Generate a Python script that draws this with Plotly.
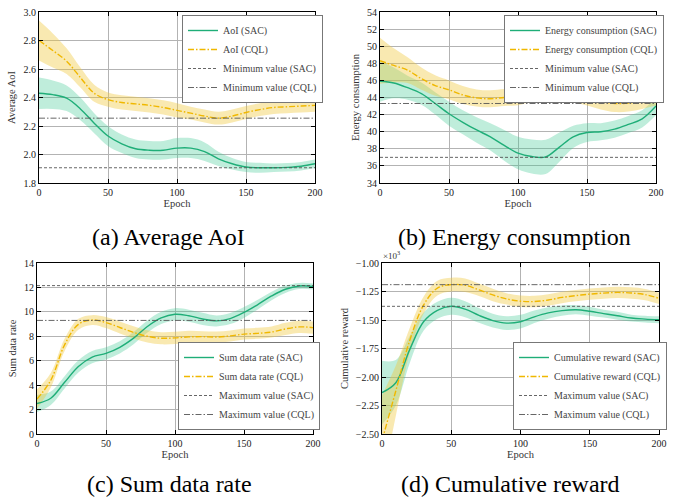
import plotly.graph_objects as go

# ---------------- data ----------------
epoch = list(range(0, 201, 10))

# (a) Average AoI
aoi_sac = [2.43, 2.42, 2.395, 2.32, 2.22, 2.13, 2.075, 2.04, 2.03, 2.03, 2.045,
           2.045, 2.02, 1.97, 1.935, 1.912, 1.907, 1.907, 1.91, 1.918, 1.935]
aoi_sac_std = [0.11, 0.10, 0.09, 0.08, 0.07, 0.07, 0.065, 0.065, 0.065, 0.065, 0.07,
               0.07, 0.065, 0.05, 0.04, 0.035, 0.035, 0.03, 0.03, 0.03, 0.03]
aoi_cql = [2.80, 2.73, 2.655, 2.54, 2.43, 2.385, 2.365, 2.355, 2.345, 2.33, 2.31,
           2.29, 2.27, 2.255, 2.27, 2.295, 2.315, 2.33, 2.335, 2.34, 2.345]
aoi_cql_std = [0.14, 0.12, 0.09, 0.07, 0.06, 0.05, 0.05, 0.05, 0.05, 0.05, 0.05,
               0.045, 0.045, 0.045, 0.045, 0.045, 0.045, 0.045, 0.045, 0.045, 0.045]
aoi_min_sac = 1.907
aoi_min_cql = 2.255

# (b) Energy consumption
en_sac = [45.9, 45.7, 45.15, 44.45, 43.3, 42.1, 41.1, 40.2, 39.4, 38.4, 37.5,
          37.1, 37.05, 38.2, 39.4, 39.9, 40.0, 40.3, 40.85, 41.5, 43.0]
en_sac_std = [2.4, 1.8, 1.4, 1.3, 1.3, 1.4, 1.4, 1.5, 1.6, 1.8, 1.9,
              2.0, 2.0, 1.7, 1.3, 1.1, 1.0, 1.0, 1.0, 1.0, 1.05]
en_cql = [48.3, 47.75, 47.2, 46.2, 45.4, 44.9, 44.3, 43.95, 43.85, 44.0, 44.1,
          44.5, 44.75, 44.9, 44.5, 44.05, 43.6, 43.3, 43.35, 43.65, 44.05]
en_cql_std = [2.7, 2.0, 1.5, 1.3, 1.2, 1.1, 1.05, 1.0, 1.0, 1.0, 1.0,
              1.0, 1.0, 1.0, 1.0, 1.0, 1.0, 1.0, 1.0, 1.0, 1.0]
en_min_sac = 37.0
en_min_cql = 43.3

# (c) Sum data rate
rate_sac = [2.5, 2.93, 4.23, 5.53, 6.3, 6.6, 7.1, 7.85, 8.8, 9.5, 9.8,
            9.68, 9.42, 9.26, 9.45, 9.95, 10.6, 11.3, 11.85, 12.12, 12.08]
rate_sac_std = [0.7, 0.55, 0.5, 0.5, 0.5, 0.5, 0.5, 0.5, 0.5, 0.5, 0.5,
                0.5, 0.5, 0.45, 0.45, 0.45, 0.4, 0.35, 0.3, 0.25, 0.25]
rate_cql = [2.86, 4.4, 7.3, 8.98, 9.33, 9.12, 8.72, 8.32, 8.0, 7.84, 7.87,
            7.95, 7.97, 7.94, 8.03, 8.18, 8.24, 8.35, 8.6, 8.77, 8.71]
rate_cql_std = [0.8, 0.6, 0.5, 0.45, 0.4, 0.45, 0.5, 0.5, 0.5, 0.5, 0.5,
                0.5, 0.45, 0.45, 0.45, 0.45, 0.45, 0.45, 0.5, 0.5, 0.5]
rate_max_sac = 12.15
rate_max_cql = 9.3

# (d) Cumulative reward (x10^3)
rew_sac = [-2.137, -2.05, -1.76, -1.515, -1.415, -1.38, -1.405, -1.46, -1.505, -1.527, -1.515,
           -1.472, -1.438, -1.418, -1.41, -1.423, -1.444, -1.463, -1.483, -1.492, -1.498]
rew_sac_std = [0.28, 0.2, 0.12, 0.08, 0.075, 0.075, 0.07, 0.065, 0.06, 0.06, 0.06,
               0.055, 0.05, 0.045, 0.04, 0.04, 0.035, 0.035, 0.03, 0.03, 0.03]
rew_cql = [-2.56, -2.12, -1.68, -1.37, -1.22, -1.19, -1.195, -1.235, -1.28, -1.315, -1.335,
           -1.338, -1.325, -1.302, -1.286, -1.273, -1.264, -1.258, -1.263, -1.277, -1.31]
rew_cql_std = [0.4, 0.22, 0.11, 0.075, 0.065, 0.06, 0.06, 0.055, 0.055, 0.05, 0.05,
               0.05, 0.05, 0.05, 0.05, 0.05, 0.05, 0.05, 0.05, 0.05, 0.05]
rew_max_sac = -1.38
rew_max_cql = -1.19

x_ticks = [0, 50, 100, 150, 200]

# ---------------- style ----------------
W, H = 677, 497
FONT = "Liberation Serif"
GREEN = "#1fae78"
GREEN_FILL = "rgba(60,200,145,0.33)"
YELLOW = "#f0b800"
YELLOW_FILL = "rgba(240,200,60,0.40)"
GRAY = "#555555"
DASHDOT = "6px,2px,1.5px,2px"

fig = go.Figure()

panels = [
    dict(ax="", box=(39, 315, 12, 183), yr=[1.8, 3.0], dt=0.2, fmt=".1f", yt="Average AoI",
         sac=aoi_sac, sac_s=aoi_sac_std, cql=aoi_cql, cql_s=aoi_cql_std,
         ref=(aoi_min_sac, aoi_min_cql),
         names=("AoI (SAC)", "AoI (CQL)", "Minimum value (SAC)", "Minimum value (CQL)"),
         leg=(182, 15, "top"), cap="(a) Average AoI", capxy=(168, 237)),
    dict(ax="2", box=(380, 656, 12, 183), yr=[34, 54], dt=2, fmt="d", yt="Energy consumption",
         sac=en_sac, sac_s=en_sac_std, cql=en_cql, cql_s=en_cql_std,
         ref=(en_min_sac, en_min_cql),
         names=("Energy consumption (SAC)", "Energy consumption (CQL)", "Minimum value (SAC)", "Minimum value (CQL)"),
         leg=(504, 15, "top"), cap="(b) Energy consumption", capxy=(514, 237)),
    dict(ax="3", box=(37, 313, 263, 434), yr=[0, 14], dt=2, fmt="d", yt="Sum data rate",
         sac=rate_sac, sac_s=rate_sac_std, cql=rate_cql, cql_s=rate_cql_std,
         ref=(rate_max_sac, rate_max_cql),
         names=("Sum data rate (SAC)", "Sum data rate (CQL)", "Maximum value (SAC)", "Maximum value (CQL)"),
         leg=(178, 430, "bottom"), cap="(c) Sum data rate", capxy=(169, 484)),
    dict(ax="4", box=(382, 659, 263, 434), yr=[-2.5, -1.0], dt=0.25, fmt=".2f", yt="Cumulative reward",
         sac=rew_sac, sac_s=rew_sac_std, cql=rew_cql, cql_s=rew_cql_std,
         ref=(rew_max_sac, rew_max_cql),
         names=("Cumulative reward (SAC)", "Cumulative reward (CQL)", "Maximum value (SAC)", "Maximum value (CQL)"),
         leg=(513, 430, "bottom"), cap="(d) Cumulative reward", capxy=(511, 484)),
]

annotations = []
for i, p in enumerate(panels):
    xa, ya = "x" + p["ax"], "y" + p["ax"]
    lg = "legend" if i == 0 else "legend%d" % (i + 1)
    common = dict(xaxis=xa, yaxis=ya, legend=lg)
    for vals, std, fillc in ((p["sac"], p["sac_s"], GREEN_FILL), (p["cql"], p["cql_s"], YELLOW_FILL)):
        lo = [v - s for v, s in zip(vals, std)]
        hi = [v + s for v, s in zip(vals, std)]
        fig.add_trace(go.Scatter(x=epoch, y=lo, mode="lines", line=dict(width=0, shape="spline"),
                                 showlegend=False, hoverinfo="skip", **common))
        fig.add_trace(go.Scatter(x=epoch, y=hi, mode="lines", line=dict(width=0, shape="spline"),
                                 fill="tonexty", fillcolor=fillc, showlegend=False,
                                 hoverinfo="skip", **common))
    fig.add_trace(go.Scatter(x=epoch, y=p["sac"], mode="lines", name=p["names"][0],
                             line=dict(color=GREEN, width=1.4, shape="spline"), **common))
    fig.add_trace(go.Scatter(x=epoch, y=p["cql"], mode="lines", name=p["names"][1],
                             line=dict(color=YELLOW, width=1.4, shape="spline", dash=DASHDOT), **common))
    fig.add_trace(go.Scatter(x=[epoch[0], epoch[-1]], y=[p["ref"][0]] * 2, mode="lines", name=p["names"][2],
                             line=dict(color=GRAY, width=0.9, dash="3px,2px"), **common))
    fig.add_trace(go.Scatter(x=[epoch[0], epoch[-1]], y=[p["ref"][1]] * 2, mode="lines", name=p["names"][3],
                             line=dict(color=GRAY, width=0.9, dash=DASHDOT), **common))

    x0, x1, y0, y1 = p["box"]
    axis_common = dict(showline=True, linecolor="black", linewidth=1, mirror="ticks",
                       ticks="inside", ticklen=4, tickwidth=1, tickcolor="black",
                       showgrid=True, gridcolor="#b3b3b3", gridwidth=1, zeroline=False,
                       automargin=False,
                       tickfont=dict(family=FONT, size=10, color="#222222"))
    fig.update_layout(**{
        "xaxis" + p["ax"]: dict(domain=[x0 / W, x1 / W], anchor=ya, range=[0, 200],
                                tickvals=x_ticks,
                                title=dict(text="Epoch", font=dict(family=FONT, size=10.5, color="#333333"), standoff=2),
                                **axis_common),
        "yaxis" + p["ax"]: dict(domain=[1 - y1 / H, 1 - y0 / H], anchor=xa, range=p["yr"],
                                dtick=p["dt"], tick0=0, tickformat=p["fmt"],
                                title=dict(text=p["yt"], font=dict(family=FONT, size=10.5, color="#333333"), standoff=5),
                                **axis_common),
    })
    lx, ly, anch = p["leg"]
    fig.update_layout(**{lg: dict(x=lx / W, y=1 - ly / H, xanchor="left", yanchor=anch,
                                  bgcolor="white", bordercolor="#777777", borderwidth=1,
                                  font=dict(family=FONT, size=10, color="#444444"),
                                  itemwidth=30, tracegroupgap=0, traceorder="normal")})
    annotations.append(dict(text=p["cap"], x=p["capxy"][0] / W, y=1 - p["capxy"][1] / H,
                            xref="paper", yref="paper", showarrow=False, xanchor="center", yanchor="middle",
                            font=dict(family=FONT, size=24, color="black")))

annotations.append(dict(text="×10<sup>3</sup>", x=381 / W, y=1 - 263 / H, xref="paper", yref="paper",
                        showarrow=False, xanchor="left", yanchor="bottom",
                        font=dict(family=FONT, size=9, color="#333333")))

fig.update_layout(width=W, height=H, margin=dict(l=0, r=0, t=0, b=0, autoexpand=False),
                  paper_bgcolor="white", plot_bgcolor="white",
                  annotations=annotations, showlegend=True)

fig.write_html("out.html", config={"displayModeBar": False},
               post_script="document.body.style.margin='0';document.body.style.overflow='hidden';")
